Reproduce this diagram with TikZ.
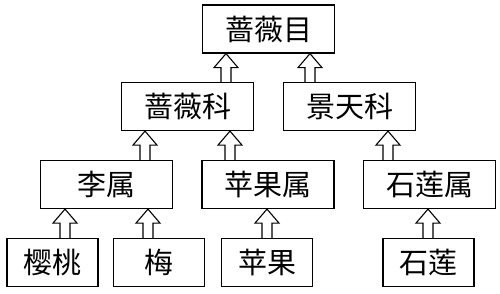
\documentclass[tikz,border=0pt]{standalone}
\usepackage{fontspec}
\newfontfamily\cjk{Noto Sans CJK SC}
\usetikzlibrary{calc}

% hollow block arrow from the top of #2 up to the bottom of #3, at x = #1 pt
\newcommand\uparr[3]{%
  \draw[hollow] let \p1=(#2.north), \p2=(#3.south) in
    (#1pt-5pt,\y1) -- (#1pt-5pt,\y2-14pt) -- (#1pt-12pt,\y2-14pt) -- (#1pt,\y2)
    -- (#1pt+12pt,\y2-14pt) -- (#1pt+5pt,\y2-14pt) -- (#1pt+5pt,\y1);}

\begin{document}
\begin{tikzpicture}[
  x=1pt, y=1pt,
  bigbox/.style={rectangle, draw=black, line width=1.2pt, minimum width=132pt,
    minimum height=48pt, inner sep=0pt, font=\cjk\fontsize{29}{32}\selectfont},
  smallbox/.style={bigbox, minimum width=91pt},
  hollow/.style={draw=black, line width=1.1pt, fill=white, line join=miter}
]
\useasboundingbox (0,0) rectangle (500,293);

% order
\node[bigbox] (mu) at (268.5,264) {蔷薇目};

% families
\node[bigbox] (qwk) at (187.5,186.5) {蔷薇科};
\node[bigbox] (jtk) at (349.5,186.5) {景天科};

% genera
\node[bigbox] (lis) at (106.5,108.5) {李属};
\node[bigbox] (pgs) at (268,108.5)   {苹果属};
\node[bigbox] (sls) at (429.5,108.5) {石莲属};

% species
\node[smallbox] (yt) at (52.5,30.5)  {樱桃};
\node[smallbox] (me) at (159,30.5)   {梅};
\node[smallbox] (pg) at (267,30.5)   {苹果};
\node[smallbox] (sl) at (428.5,30.5) {石莲};

\uparr{226}{qwk}{mu}
\uparr{310}{jtk}{mu}
\uparr{145}{lis}{qwk}
\uparr{230}{pgs}{qwk}
\uparr{388}{sls}{jtk}
\uparr{65}{yt}{lis}
\uparr{148}{me}{lis}
\uparr{267}{pg}{pgs}
\uparr{428}{sl}{sls}

\end{tikzpicture}
\end{document}
